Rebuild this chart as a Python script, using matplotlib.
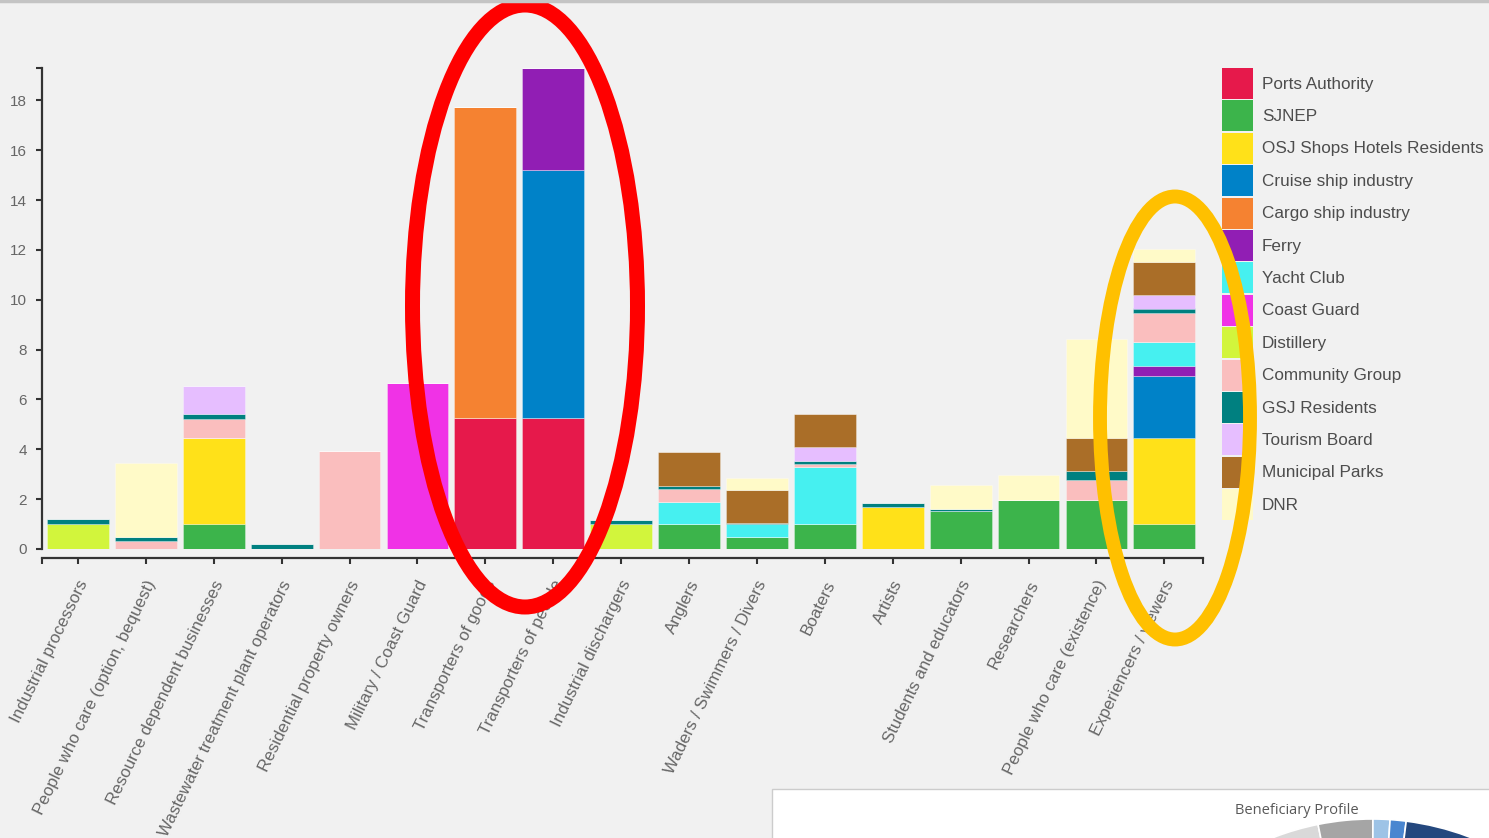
import numpy as np
import matplotlib
matplotlib.use("Agg")
import matplotlib.pyplot as plt
from matplotlib.patches import Ellipse, Rectangle, Wedge
from matplotlib.transforms import ScaledTranslation

plt.rcParams['font.family'] = ['Liberation Sans', 'DejaVu Sans']

# beneficiary categories (x axis)
categories = ["Industrial processors", "People who care (option, bequest)",
              "Resource dependent businesses", "Wastewater treatment plant operators",
              "Residential property owners", "Military / Coast Guard",
              "Transporters of goods", "Transporters of people",
              "Industrial dischargers", "Anglers", "Waders / Swimmers / Divers",
              "Boaters", "Artists", "Students and educators", "Researchers",
              "People who care (existence)", "Experiencers / viewers"]

# stakeholder groups (stack order, bottom first)
groups = ["Ports Authority", "SJNEP", "OSJ Shops Hotels Residents",
          "Cruise ship industry", "Cargo ship industry", "Ferry", "Yacht Club",
          "Coast Guard", "Distillery", "Community Group", "GSJ Residents",
          "Tourism Board", "Municipal Parks", "DNR"]
colors = ["#e6194b", "#3cb44b", "#ffe119", "#0082c8", "#f58231", "#911eb4",
          "#46f0f0", "#f032e6", "#d2f53c", "#fabebe", "#008080", "#e6beff",
          "#aa6e28", "#fffac8"]

ports_authority = [0, 0, 0, 0, 0, 0, 5.25, 5.25, 0, 0, 0, 0, 0, 0, 0, 0, 0]
sjnep           = [0, 0, 1.0, 0, 0, 0, 0, 0, 0, 1.0, 0.5, 1.0, 0, 1.52, 1.98, 1.98, 1.0]
osj             = [0, 0, 3.45, 0, 0, 0, 0, 0, 0, 0, 0, 0, 1.7, 0, 0, 0, 3.45]
cruise          = [0, 0, 0, 0, 0, 0, 0, 9.95, 0, 0, 0, 0, 0, 0, 0, 0, 2.5]
cargo           = [0, 0, 0, 0, 0, 0, 12.5, 0, 0, 0, 0, 0, 0, 0, 0, 0, 0]
ferry           = [0, 0, 0, 0, 0, 0, 0, 4.1, 0, 0, 0, 0, 0, 0, 0, 0, 0.4]
yacht_club      = [0, 0, 0, 0, 0, 0, 0, 0, 0, 0.9, 0.5, 2.3, 0, 0, 0, 0, 0.95]
coast_guard     = [0, 0, 0, 0, 0, 6.65, 0, 0, 0, 0, 0, 0, 0, 0, 0, 0, 0]
distillery      = [1.0, 0, 0, 0, 0, 0, 0, 0, 1.0, 0, 0, 0, 0, 0, 0, 0, 0]
community_group = [0, 0.33, 0.75, 0, 3.95, 0, 0, 0, 0, 0.52, 0, 0.1, 0, 0, 0, 0.78, 1.15]
gsj_residents   = [0.2, 0.17, 0.2, 0.2, 0, 0, 0, 0, 0.18, 0.11, 0.05, 0.15, 0.13, 0.07, 0, 0.37, 0.2]
tourism_board   = [0, 0, 1.15, 0, 0, 0, 0, 0, 0, 0, 0, 0.55, 0, 0, 0, 0, 0.55]
municipal_parks = [0, 0, 0, 0, 0, 0, 0, 0, 0, 1.35, 1.33, 1.33, 0, 0, 0, 1.32, 1.3]
dnr             = [0, 2.95, 0, 0, 0, 0, 0, 0, 0, 0, 0.46, 0, 0, 0.98, 0.99, 3.97, 0.55]

series = [ports_authority, sjnep, osj, cruise, cargo, ferry, yacht_club,
          coast_guard, distillery, community_group, gsj_residents,
          tourism_board, municipal_parks, dnr]

BG = "#f1f1f1"
W, H = 1489, 838

fig = plt.figure(figsize=(W / 100, H / 100), dpi=100, facecolor=BG)
ax = fig.add_axes([42 / W, (H - 549) / H, (1203 - 42) / W, (549 - 68) / H])
ax.set_facecolor(BG)

x = np.arange(len(categories))
bottom = np.zeros(len(categories))
for vals, col in zip(series, colors):
    vals = np.array(vals, dtype=float)
    ax.bar(x, vals, width=0.91, bottom=bottom, color=col,
           edgecolor=(1, 1, 1, 0.35), linewidth=0.6)
    bottom += vals

ax.set_xlim(-0.53, 16.57)
ax.set_ylim(0, 19.3)

for s in ["top", "right"]:
    ax.spines[s].set_visible(False)
for s in ["left", "bottom"]:
    ax.spines[s].set_color("#333333")
    ax.spines[s].set_linewidth(1.6)
ax.spines["bottom"].set_position(("outward", 6.5))

ax.set_yticks(range(0, 19, 2))
ax.set_yticks([19.3], minor=True)
ax.set_xticks(x)
ax.set_xticks([-0.53, 16.57], minor=True)
ax.tick_params(which="both", length=4.5, width=1.5, color="#333333",
               labelcolor="#666666", labelsize=11)
ax.tick_params(axis="y", pad=6.5)
ax.set_xticklabels(categories, rotation=64, ha="right", va="center",
                   rotation_mode="anchor", fontsize=12.2)
offset = ScaledTranslation(6 / 100, -12 / 100, fig.dpi_scale_trans)
for lbl in ax.get_xticklabels():
    lbl.set_transform(lbl.get_transform() + offset)

# overlay in pixel coordinates: legend, annotations, pasted inset
ov = fig.add_axes([0, 0, 1, 1], zorder=5)
ov.set_xlim(0, W)
ov.set_ylim(H, 0)
ov.axis("off")
ov.patch.set_visible(False)

ov.plot([0, W], [1.5, 1.5], color="#c4c4c4", lw=2.5)

for i, (g, c) in enumerate(zip(groups, colors)):
    y0 = 68 + i * 32.4
    ov.add_patch(Rectangle((1222, y0), 31, 31, fc=c, ec="none"))
    ov.text(1262, y0 + 16, g, va="center", ha="left", fontsize=12.3,
            color="#4d4d4d")

ov.add_patch(Ellipse((525, 306), 225, 602, fill=False, ec="#ff0000", lw=10.8))
ov.add_patch(Ellipse((1175, 418), 150, 443, fill=False, ec="#ffc000", lw=10))

ov.add_patch(Rectangle((772, 789), 800, 100, fc="white", ec="#cccccc", lw=1))
ov.text(1297, 810, "Beneficiary Profile", ha="center", va="center",
        fontsize=10.5, color="#595959", family="Open Sans")
donut = [(220, 258.6, "#d9d9d9"), (258.6, 270.2, "#a5a5a5"),
         (270.2, 273.8, "#9dc3e6"), (273.8, 277.2, "#4a86d0"),
         (277.2, 330, "#24487e")]
for t1, t2, c in donut:
    ov.add_patch(Wedge((1372, 1092), 273, t1, t2, width=80, fc=c,
                       ec="white", lw=1.2))

fig.savefig("out.png", dpi=100, facecolor=BG)
